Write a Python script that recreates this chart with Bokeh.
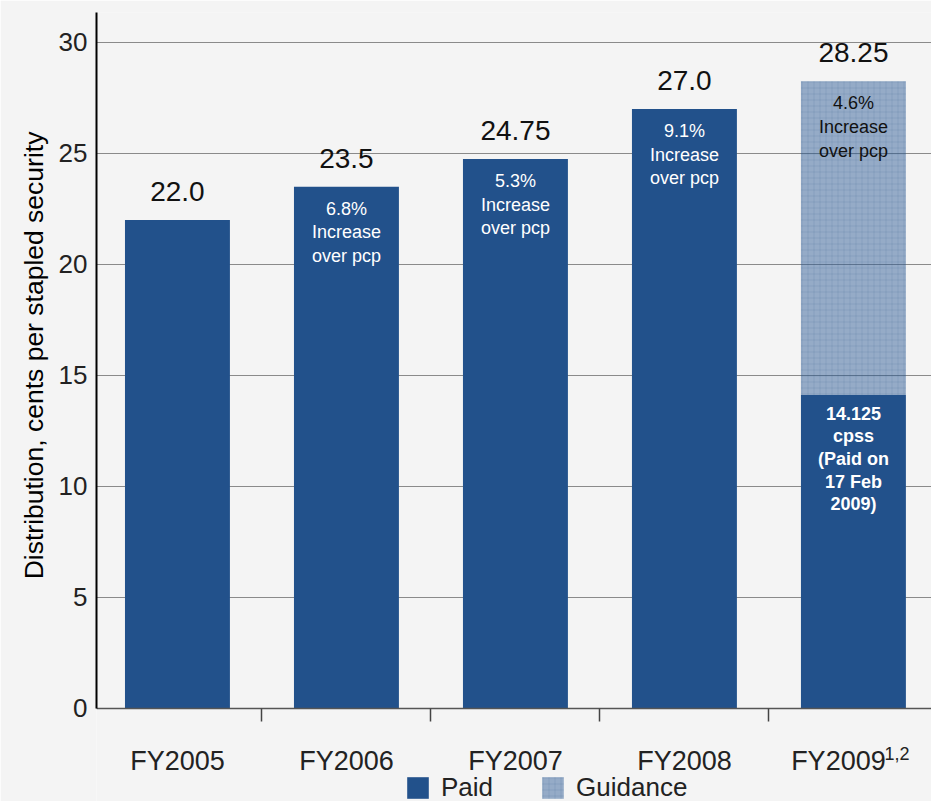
from bokeh.plotting import figure
from bokeh.models import (FixedTicker, Range1d, Legend, LegendItem,
                          ColumnDataSource, LinearAxis)
from bokeh.core.properties import value
from bokeh.embed import file_html
from bokeh.resources import INLINE

# ---- data -------------------------------------------------------------
years = ["FY2005", "FY2006", "FY2007", "FY2008", "FY2009"]
paid = [22.0, 23.5, 24.75, 27.0, 14.125]          # cents per stapled security
guidance = [0.0, 0.0, 0.0, 0.0, 14.125]           # second-half guidance
increase_pct = ["", "6.8%", "5.3%", "9.1%", "4.6%"]
paid_note = "14.125\ncpss\n(Paid on\n17 Feb\n2009)"
footnote = "1,2"
y_ticks = [0, 5, 10, 15, 20, 25, 30]

FONT = "Liberation Sans"
PAID_COLOR = "#22518b"
BG = "#f4f4f4"
Y_TOP = 31.35
NBSP = "\u00a0"


def fmt(v):
    s = f"{v:.2f}".rstrip("0")
    return s + "0" if s.endswith(".") else s


xs = list(range(len(years)))
totals = [p + g for p, g in zip(paid, guidance)]

p = figure(width=931, height=801, output_backend="svg", toolbar_location=None,
           x_range=Range1d(-0.479, 4.462), y_range=Range1d(-4.19, Y_TOP),
           x_axis_location=None,
           min_border_left=96, min_border_right=0, min_border_top=12,
           min_border_bottom=0)
p.background_fill_color = BG
p.border_fill_color = BG
p.outline_line_color = None

# ---- grid ---------------------------------------------------------------
p.xgrid.grid_line_color = None
p.ygrid.ticker = FixedTicker(ticks=y_ticks)
p.ygrid.grid_line_color = "#8a8a8a"
p.ygrid.grid_line_width = 1

# ---- bars ---------------------------------------------------------------
paid_src = ColumnDataSource(dict(x=xs, top=paid))
paid_r = p.vbar(x="x", top="top", width=0.621, source=paid_src,
                fill_color=PAID_COLOR, line_color=None)

g_idx = [i for i, g in enumerate(guidance) if g > 0]
guid_src = ColumnDataSource(dict(x=[xs[i] for i in g_idx],
                                 bottom=[paid[i] for i in g_idx],
                                 top=[totals[i] for i in g_idx]))
guid_r = p.vbar(x="x", bottom="bottom", top="top", width=0.621, source=guid_src,
                fill_color="#2a5a95", fill_alpha=0.47, line_color=None,
                hatch_pattern="+", hatch_color="#1e4a80", hatch_alpha=0.12,
                hatch_scale=6, hatch_weight=1)

# ---- total labels above each bar ----------------------------------------
p.text(x=xs, y=totals, text=[fmt(t) for t in totals], text_align="center",
       text_baseline="bottom", y_offset=-19, text_font=value(FONT),
       text_font_size="28px", text_color="#111111")

# ---- increase-over-pcp notes inside bars --------------------------------
inc_x, inc_y, inc_t, inc_c = [], [], [], []
for i, pct in enumerate(increase_pct):
    if not pct:
        continue
    inc_x.append(xs[i])
    inc_y.append(totals[i])
    inc_t.append(f"{pct}\nIncrease\nover pcp")
    inc_c.append("#111111" if guidance[i] > 0 else "white")
p.text(x=inc_x, y=inc_y, text=inc_t, text_color=inc_c, text_align="center",
       text_baseline="top", y_offset=12, text_font=value(FONT),
       text_font_size="18px", text_line_height=1.18)

# paid-to-date note in the final year's paid segment
p.text(x=[xs[-1]], y=[paid[-1]], text=[paid_note], text_color="white",
       text_align="center", text_baseline="top", y_offset=9,
       text_font=value(FONT), text_font_size="18px", text_font_style="bold",
       text_line_height=1.13)

# ---- axes ----------------------------------------------------------------
ya = p.yaxis[0]
ya.ticker = FixedTicker(ticks=y_ticks)
ya.bounds = (0, Y_TOP)
ya.major_tick_in = 0
ya.major_tick_out = 0
ya.minor_tick_in = 0
ya.minor_tick_out = 0
ya.axis_line_color = "black"
ya.axis_line_width = 2
ya.major_label_standoff = 9
ya.major_label_text_font = FONT
ya.major_label_text_font_size = "26px"
ya.major_label_text_color = "#222222"
# leading no-break spaces lift the title to the centre of the 0-31 span
ya.axis_label = NBSP * 14 + "Distribution, cents per stapled security"
ya.axis_label_text_font = FONT
ya.axis_label_text_font_size = "26.5px"
ya.axis_label_text_font_style = "normal"
ya.axis_label_text_color = "black"
ya.axis_label_standoff = 7

# category axis sits on the zero line
last_label = years[-1] + NBSP * 4     # room for the footnote marker
xa = LinearAxis(fixed_location=0,
                ticker=FixedTicker(ticks=xs, minor_ticks=[x + 0.5 for x in xs[:-1]]),
                major_label_overrides={i: (y if i < len(years) - 1 else last_label)
                                       for i, y in enumerate(years)})
xa.major_tick_in = 0
xa.major_tick_out = 0
xa.minor_tick_in = 0
xa.minor_tick_out = 13
xa.minor_tick_line_color = "#444444"
xa.minor_tick_line_width = 1.5
xa.axis_line_color = "#555555"
xa.axis_line_width = 1.5
xa.major_label_standoff = 25
xa.major_label_text_font = FONT
xa.major_label_text_font_size = "27px"
xa.major_label_text_color = "#222222"
p.add_layout(xa, "below")

# footnote marker on the last category label
p.text(x=[xs[-1]], y=[0], x_offset=31, y_offset=45, text=[footnote],
       text_font=value(FONT), text_font_size="18px", text_color="#222222",
       text_baseline="middle", text_align="left")

# ---- legend ----------------------------------------------------------------
legend = Legend(items=[LegendItem(label="Paid", renderers=[paid_r]),
                       LegendItem(label="Guidance", renderers=[guid_r])],
                orientation="horizontal", location=(308, -2),
                glyph_width=27, glyph_height=27, label_standoff=10,
                spacing=46, padding=0, margin=0,
                label_text_font=FONT, label_text_font_size="26px",
                label_text_color="#222222",
                background_fill_alpha=0, border_line_color=None)
p.add_layout(legend)

open("out.html", "w").write(file_html(p, INLINE))
